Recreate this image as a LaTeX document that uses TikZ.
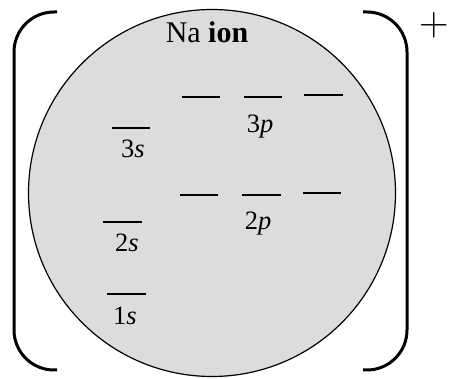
\documentclass[tikz,border=0pt]{standalone}
\usepackage{fontspec}
\setmainfont{Liberation Serif}
\newfontfamily\chargefont{Latin Modern Roman}

\begin{document}
\begin{tikzpicture}[x=1pt,y=-1pt,line cap=butt]
\definecolor{ionfill}{HTML}{DCDCDC}
\tikzset{
  level/.style={line width=2.7pt},
  orb/.style={anchor=base,inner sep=0pt,font=\fontsize{26.5}{28}\selectfont},
  bracket/.style={line width=3pt,rounded corners=40pt}
}
\useasboundingbox (0,0) rectangle (456,379);
\fill[ionfill,draw=black,line width=1.2pt] (212,193) circle (183.5);
\node[anchor=base,inner sep=0pt,font=\fontsize{30}{32}\selectfont] (title) at (207,43) {Na \textbf{ion}};
% brackets and charge
\draw[bracket] (57,12) -- (14,12) -- (14,370) -- (57,370);
\draw[bracket] (363,12) -- (407,12) -- (407,370) -- (363,370);
\node[inner sep=0pt,font=\chargefont\fontsize{41}{41}\selectfont] (charge) at (434,25) {+};
% s levels
\draw[level] (112,128) -- (150,128);
\node[orb] (s3) at (133,158) {3\textit{s}};
\draw[level] (103,222) -- (142,222);
\node[orb] (s2) at (127,252) {2\textit{s}};
\draw[level] (107,294) -- (146,294);
\node[orb] (s1) at (125,325) {1\textit{s}};
% p levels
\draw[level] (182,97) -- (220,97);
\draw[level] (244,97) -- (282,97);
\draw[level] (304,95) -- (343,95);
\node[orb] (p3) at (260,133) {3\textit{p}};
\draw[level] (180,195) -- (218,195);
\draw[level] (242,195) -- (281,195);
\draw[level] (303,193) -- (341,193);
\node[orb] (p2) at (258,230) {2\textit{p}};
\end{tikzpicture}
\end{document}
